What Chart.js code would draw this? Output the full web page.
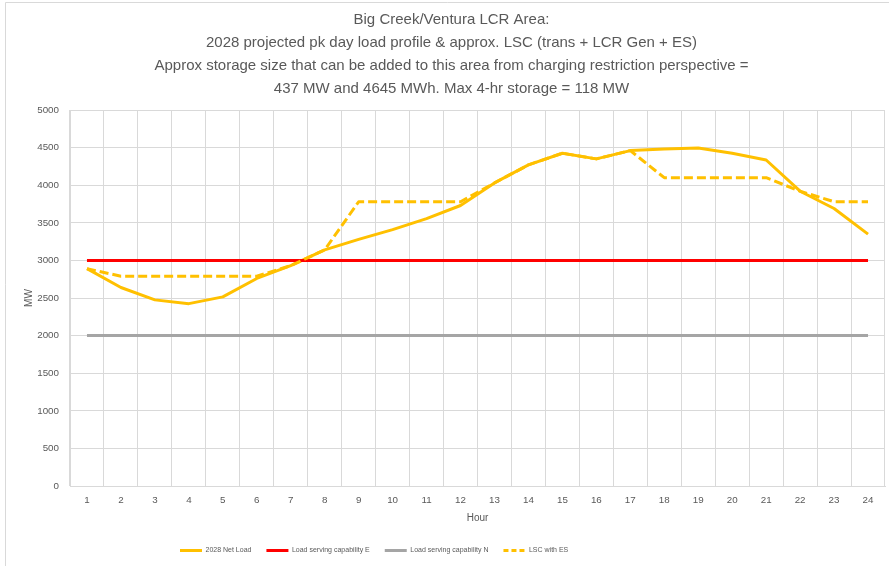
<!DOCTYPE html>
<html>
<head>
<meta charset="utf-8">
<script src="https://cdn.jsdelivr.net/npm/chart.js@4.4.1/dist/chart.umd.min.js"></script>
<style>
  html, body { margin: 0; padding: 0; background: #ffffff; }
  #wrap { width: 889px; height: 566px; }
</style>
</head>
<body>
<div id="wrap"><canvas id="c" width="889" height="566"></canvas></div>
<script>
const hours = ['1','2','3','4','5','6','7','8','9','10','11','12','13','14','15','16','17','18','19','20','21','22','23','24'];
const netLoad2028 = [2890, 2640, 2475, 2425, 2515, 2760, 2930, 3140, 3280, 3410, 3555, 3730, 4030, 4270, 4425, 4350, 4460, 4480, 4495, 4425, 4335, 3920, 3690, 3350];
const loadServingE = [3000, 3000, 3000, 3000, 3000, 3000, 3000, 3000, 3000, 3000, 3000, 3000, 3000, 3000, 3000, 3000, 3000, 3000, 3000, 3000, 3000, 3000, 3000, 3000];
const loadServingN = [2000, 2000, 2000, 2000, 2000, 2000, 2000, 2000, 2000, 2000, 2000, 2000, 2000, 2000, 2000, 2000, 2000, 2000, 2000, 2000, 2000, 2000, 2000, 2000];
const lscWithES = [2890, 2790, 2790, 2790, 2790, 2790, 2930, 3140, 3780, 3780, 3780, 3780, 4030, 4270, 4425, 4350, 4460, 4100, 4100, 4100, 4100, 3920, 3780, 3780];
const yTicks = [0, 500, 1000, 1500, 2000, 2500, 3000, 3500, 4000, 4500, 5000];
const seriesNames = ['2028 Net Load', 'Load serving capability E', 'Load serving capability N', 'LSC with ES'];
const titleLines = [
  'Big Creek/Ventura LCR Area:',
  '2028 projected pk day load profile & approx. LSC (trans + LCR Gen + ES)',
  'Approx storage size that can be added to this area from charging restriction perspective =',
  '437 MW and 4645 MWh. Max 4-hr storage = 118 MW'
];

const FONT = "'Liberation Sans', Arial, sans-serif";
const TXT = '#595959';
const GRID = '#d9d9d9';

const framePlugin = {
  id: 'frame',
  beforeDraw(chart) {
    const ctx = chart.ctx;
    ctx.save();
    ctx.fillStyle = '#ffffff';
    ctx.fillRect(0, 0, chart.width, chart.height);
    ctx.strokeStyle = GRID;
    ctx.lineWidth = 1;
    ctx.beginPath();
    ctx.moveTo(5.5, chart.height);
    ctx.lineTo(5.5, 2.5);
    ctx.lineTo(chart.width, 2.5);
    ctx.stroke();
    ctx.restore();
  },
  afterLayout(chart) {
    const lg = chart.legend;
    if (lg) {
      lg.left = 180 - lg.options.labels.padding;
    }
    const tb = chart.titleBlock;
    if (tb) {
      tb.left = tb.left + 18;
    }
  }
};

const ds = (label, data, color, order, dash) => ({
  label, data,
  borderColor: color,
  backgroundColor: color,
  borderWidth: 3,
  borderDash: dash || [],
  pointRadius: 0,
  pointHoverRadius: 0,
  tension: 0,
  fill: false,
  order: order,
  borderJoinStyle: 'round'
});

new Chart(document.getElementById('c'), {
  type: 'line',
  data: {
    labels: hours,
    datasets: [
      ds(seriesNames[0], netLoad2028, '#FFC000', 4),
      ds(seriesNames[1], loadServingE, '#FF0000', 3),
      ds(seriesNames[2], loadServingN, '#A5A5A5', 2),
      ds(seriesNames[3], lscWithES, '#FFC000', 1, [9, 4])
    ]
  },
  options: {
    responsive: false,
    animation: false,
    layout: { padding: { left: 0, right: 4, top: 0, bottom: 2 } },
    plugins: {
      tooltip: { enabled: false },
      title: {
        display: true,
        text: titleLines,
        color: TXT,
        font: { family: FONT, size: 15, weight: 'normal', lineHeight: '23px' },
        padding: { top: 8, bottom: 10 }
      },
      legend: {
        display: true,
        position: 'bottom',
        align: 'start',
        labels: {
          color: TXT,
          font: { family: FONT, size: 7 },
          usePointStyle: true,
          pointStyle: 'line',
          pointStyleWidth: 22,
          padding: 15,
          generateLabels(chart) {
            const items = Chart.defaults.plugins.legend.labels.generateLabels(chart);
            items.sort((a, b) => a.datasetIndex - b.datasetIndex);
            items.forEach(it => {
              it.pointStyle = 'line';
              it.lineWidth = 3;
              it.lineDash = it.datasetIndex === 3 ? [5, 3] : [];
            });
            return items;
          }
        }
      }
    },
    scales: {
      x: {
        offset: true,
        grid: { color: GRID, offset: true, drawTicks: false, lineWidth: 1 },
        border: { display: true, color: GRID },
        ticks: { color: TXT, font: { family: FONT, size: 9.8 }, padding: 8, maxRotation: 0, autoSkip: false },
        title: { display: true, text: 'Hour', color: TXT, font: { family: FONT, size: 10 }, padding: { top: 0, bottom: 8 } },
        afterFit(scale) { scale.height = 46; }
      },
      y: {
        min: 0, max: 5000,
        afterBuildTicks(scale) { scale.ticks = yTicks.map(v => ({ value: v })); },
        grid: { color: GRID, drawTicks: false, lineWidth: 1 },
        border: { display: true, color: GRID },
        ticks: { color: TXT, font: { family: FONT, size: 9.8 }, padding: 11, callback: (v) => String(v) },
        title: { display: true, text: 'MW', color: TXT, font: { family: FONT, size: 10 }, padding: { top: 23, bottom: 0 } },
        afterFit(scale) { scale.width = 70; }
      }
    }
  },
  plugins: [framePlugin]
});
</script>
</body>
</html>
